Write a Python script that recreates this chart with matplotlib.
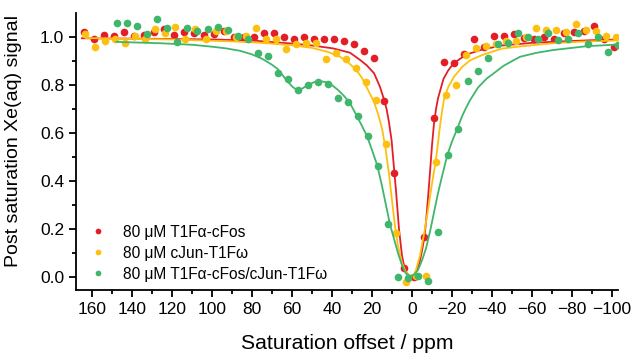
import numpy as np
import matplotlib.pyplot as plt

plt.rcParams['font.family'] = ['Liberation Sans', 'DejaVu Sans']

# measured points (ppm, signal)
red_x = [163.8, 158.8, 153.8, 148.8, 143.8, 138.8, 133.8, 128.8, 123.8, 118.8, 113.8, 108.8,
         103.8, 98.8, 93.8, 88.8, 83.8, 78.8, 73.8, 68.8, 63.8, 58.8, 53.8, 48.8, 43.8, 38.8,
         33.8, 28.8, 23.8, 18.8, 13.8, 8.8, 3.8, -1.2, -6.2, -11.2, -16.2, -21.2, -26.2, -31.2,
         -36.2, -41.2, -46.2, -51.2, -56.2, -61.2, -66.2, -71.2, -76.2, -81.2, -86.2, -91.2,
         -96.2, -101.2]
red_y = [1.020, 0.994, 1.007, 1.004, 1.022, 1.005, 1.007, 1.022, 1.032, 1.007, 1.020, 1.015,
         1.007, 1.011, 1.025, 1.000, 1.000, 1.002, 1.018, 1.018, 1.000, 0.993, 0.999, 0.993,
         0.993, 0.990, 0.985, 0.971, 0.943, 0.914, 0.733, 0.436, 0.040, 0.000, 0.167, 0.661,
         0.895, 0.893, 0.928, 0.994, 0.960, 1.004, 1.004, 1.013, 0.997, 0.994, 0.999, 0.994,
         1.018, 1.022, 1.025, 1.046, 0.994, 0.958]

yel_x = [163.2, 158.2, 153.2, 148.2, 143.2, 138.2, 133.2, 128.2, 123.2, 118.2, 113.2, 108.2,
         103.2, 98.2, 93.2, 88.2, 83.2, 78.2, 73.2, 68.2, 63.2, 58.2, 53.2, 48.2, 43.2, 38.2,
         33.2, 28.2, 23.2, 18.2, 13.2, 8.2, 3.2, -1.8, -6.8, -11.8, -16.8, -21.8, -26.8, -31.8,
         -36.8, -41.8, -46.8, -51.8, -56.8, -61.8, -66.8, -71.8, -76.8, -81.8, -86.8, -91.8,
         -96.8, -101.8]
yel_y = [1.011, 0.960, 0.983, 0.994, 0.976, 1.004, 0.990, 1.033, 1.015, 1.043, 0.994, 1.033,
         0.990, 1.026, 1.026, 1.000, 1.005, 1.036, 0.990, 0.992, 0.950, 0.970, 0.974, 0.976,
         0.907, 0.935, 0.907, 0.871, 0.814, 0.738, 0.553, 0.182, -0.018, 0.003, 0.004, 0.480,
         0.758, 0.800, 0.926, 0.955, 0.964, 0.971, 0.985, 0.983, 1.001, 1.036, 1.029, 1.029,
         1.020, 1.054, 1.029, 1.025, 1.004, 0.999]

grn_x = [147.2, 142.2, 137.2, 132.2, 127.2, 122.2, 117.2, 112.2, 107.2, 102.2, 97.2, 92.2,
         87.2, 82.2, 77.2, 72.2, 67.2, 62.2, 57.2, 52.2, 47.2, 42.2, 37.2, 32.2, 27.2, 22.2,
         17.2, 12.2, 7.2, 2.2, -2.8, -7.8, -12.8, -17.8, -22.8, -27.8, -32.8, -37.8, -42.8,
         -47.8, -52.8, -57.8, -62.8, -67.8, -72.8, -77.8, -82.8, -87.8, -92.8, -97.8, -102.8]
grn_y = [1.060, 1.057, 1.046, 1.011, 1.075, 1.036, 0.980, 1.036, 1.025, 1.033, 1.040, 1.029,
         1.005, 0.990, 0.935, 0.922, 0.851, 0.824, 0.778, 0.800, 0.811, 0.803, 0.747, 0.728,
         0.671, 0.589, 0.463, 0.222, 0.000, -0.005, 0.006, -0.014, 0.190, 0.509, 0.617, 0.819,
         0.859, 0.914, 0.970, 0.976, 1.015, 1.001, 0.990, 1.018, 0.988, 0.990, 1.015, 0.970,
         1.001, 0.936, 0.966]

# fitted curves
red_fx = [165, 130, 100, 78.8, 60, 50, 39.5, 31, 26, 22.7, 19, 16, 13.8, 12.7, 11.5, 10.2,
          8.8, 8, 6.5, 5, 3.8, 2.5, 1, 0, -1, -2.5, -4, -5, -6.2, -7, -8, -9, -10, -11, -12,
          -13, -15.7, -18, -20.7, -25, -29, -35, -45, -60, -75, -90, -103]
red_fy = [0.995, 0.993, 0.990, 0.985, 0.973, 0.965, 0.953, 0.935, 0.905, 0.883, 0.850,
          0.793, 0.735, 0.700, 0.645, 0.570, 0.436, 0.360, 0.200, 0.090, 0.040, 0.015, 0.003,
          0.003, 0.010, 0.030, 0.070, 0.110, 0.167, 0.230, 0.330, 0.437, 0.550, 0.640, 0.700,
          0.745, 0.825, 0.860, 0.890, 0.915, 0.932, 0.948, 0.965, 0.976, 0.982, 0.987, 0.990]

yel_fx = [163, 120, 90, 75, 60, 50, 42, 36, 32, 28, 25, 22, 19, 17, 15, 13.3, 11.5, 10, 8.3,
          7, 5, 3, 1, -1, -2, -4, -6, -8, -10, -11.8, -13, -14, -15, -16, -18, -21, -25, -29,
          -35, -45, -55, -70, -85, -103]
yel_fy = [0.996, 0.990, 0.982, 0.976, 0.966, 0.955, 0.938, 0.918, 0.895, 0.865, 0.830,
          0.780, 0.730, 0.680, 0.620, 0.540, 0.430, 0.320, 0.200, 0.130, 0.060, 0.020, 0.005,
          0.010, 0.030, 0.090, 0.180, 0.280, 0.390, 0.480, 0.560, 0.630, 0.690, 0.740, 0.790,
          0.835, 0.875, 0.903, 0.925, 0.952, 0.962, 0.974, 0.981, 0.986]

grn_fx = [147.7, 125, 110, 100, 93, 86, 80, 75, 70, 67, 65, 62.7, 60, 57.5, 55, 52, 49, 46,
          43, 40, 37, 34, 31, 27.5, 25, 22.5, 20, 17.3, 15, 13, 11, 9, 7, 5, 3, 1, -1, -3, -5,
          -7, -9, -11, -13, -15, -17.7, -20, -22.7, -25, -27, -29, -33, -37.3, -41, -45.7, -50,
          -54, -62, -70.5, -80, -87.3, -103]
grn_fy = [0.980, 0.974, 0.968, 0.960, 0.953, 0.943, 0.928, 0.910, 0.885, 0.866, 0.845,
          0.820, 0.795, 0.779, 0.785, 0.800, 0.812, 0.817, 0.812, 0.800, 0.780, 0.755, 0.725,
          0.670, 0.630, 0.588, 0.530, 0.464, 0.380, 0.300, 0.220, 0.160, 0.100, 0.050, 0.015,
          0.005, 0.010, 0.030, 0.070, 0.120, 0.190, 0.270, 0.350, 0.420, 0.510, 0.565, 0.620,
          0.670, 0.705, 0.737, 0.790, 0.827, 0.850, 0.880, 0.900, 0.918, 0.934, 0.946, 0.955,
          0.962, 0.969]

labels = [u'80 \u03bcM T1F\u03b1-cFos', u'80 \u03bcM cJun-T1F\u03c9',
          u'80 \u03bcM T1F\u03b1-cFos/cJun-T1F\u03c9']
colors = ['#e41e26', '#fdc010', '#3fb66b']

fig = plt.figure(figsize=(6.32, 3.53), dpi=100)
ax = fig.add_axes([0.120, 0.178, 0.858, 0.785])

pts = [(red_x, red_y), (yel_x, yel_y), (grn_x, grn_y)]
fits = [(red_fx, red_fy), (yel_fx, yel_fy), (grn_fx, grn_fy)]
handles = []
for (px, py), (fx, fy), c, lab in zip(pts, fits, colors, labels):
    h, = ax.plot(px, py, 'o', color=c, ms=5.5, mec='none', label=lab)
    ax.plot(fx, fy, '-', color=c, lw=1.3)
    handles.append(h)

ax.set_xlim(168, -103)
ax.set_ylim(-0.054, 1.1)
ax.set_xticks(np.arange(160, -101, -20))
ax.set_xticks(np.arange(150, -101, -20), minor=True)
ax.set_yticks(np.arange(0, 1.01, 0.2))
ax.set_yticks(np.arange(0.1, 1.1, 0.2), minor=True)
ax.set_yticklabels(['0.0', '0.2', '0.4', '0.6', '0.8', '1.0'])

for s in ['top', 'right']:
    ax.spines[s].set_visible(False)
for s in ['left', 'bottom']:
    ax.spines[s].set_linewidth(1.3)
ax.tick_params(which='major', direction='out', length=5, width=1.3, labelsize=12.5)
ax.tick_params(which='minor', direction='out', length=3, width=1.3)

ax.set_xlabel('Saturation offset / ppm', fontsize=15.2, labelpad=12)
ax.set_ylabel('Post saturation Xe(aq) signal', fontsize=14, labelpad=5)
ax.yaxis.set_label_coords(-0.1, 0.54)

ax.legend(handles=handles, loc='lower left', bbox_to_anchor=(0.0, -0.02),
          frameon=False, fontsize=11.2, markerscale=0.75, handletextpad=1.15,
          labelspacing=0.38, handlelength=1.0)

fig.savefig('out.png', dpi=100)
